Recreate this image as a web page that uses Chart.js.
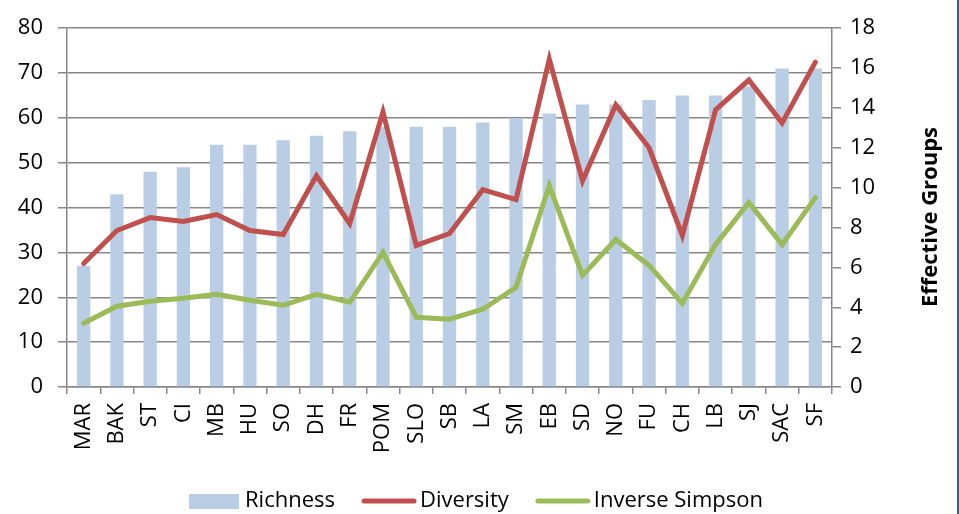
<!DOCTYPE html>
<html>
<head>
<meta charset="utf-8">
<script src="https://cdn.jsdelivr.net/npm/chart.js@4/dist/chart.umd.min.js"></script>
<style>
  html, body { margin: 0; padding: 0; background: #fff; }
  #wrap { width: 957px; height: 514px; border-right: 2px solid #1f6aa5; }
</style>
</head>
<body>
<div id="wrap"><canvas id="chart" width="957" height="514"></canvas></div>
<script>
const sites = ['MAR', 'BAK', 'ST', 'CI', 'MB', 'HU', 'SO', 'DH', 'FR', 'POM', 'SLO', 'SB',
  'LA', 'SM', 'EB', 'SD', 'NO', 'FU', 'CH', 'LB', 'SJ', 'SAC', 'SF'];
const richness = [27, 43, 48, 49, 54, 54, 55, 56, 57, 58, 58, 58,
  59, 60, 61, 63, 63, 64, 65, 65, 67, 71, 71];
const diversity = [6.2, 7.85, 8.5, 8.3, 8.65, 7.85, 7.65, 10.6, 8.2, 13.8, 7.1, 7.7,
  9.9, 9.4, 16.45, 10.35, 14.15, 12.0, 7.6, 13.9, 15.4, 13.25, 16.3];
const inverseSimpson = [3.2, 4.05, 4.3, 4.45, 4.65, 4.35, 4.1, 4.65, 4.25, 6.75, 3.5, 3.4,
  3.9, 5.0, 10.1, 5.6, 7.4, 6.1, 4.2, 7.15, 9.25, 7.15, 9.5];

const BLUE = '#b9cde5', RED = '#c0504d', GREEN = '#9bbb59', GRID = '#878787';
const FONT = "'Open Sans', sans-serif";
const SIZE = 22;

// little pictures for the legend keys
function keyBox(color) {
  const c = document.createElement('canvas');
  c.width = 50; c.height = 15;
  const g = c.getContext('2d');
  g.fillStyle = color;
  g.fillRect(0, 0, 50, 15);
  return c;
}
function keyLine(color) {
  const c = document.createElement('canvas');
  c.width = 56; c.height = 6;
  const g = c.getContext('2d');
  g.strokeStyle = color;
  g.lineWidth = 5;
  g.lineCap = 'round';
  g.beginPath(); g.moveTo(3, 3); g.lineTo(53, 3); g.stroke();
  return c;
}

// right axis title reads bottom to top
const rightTitle = {
  id: 'rightTitle',
  afterDraw(chart) {
    const ctx = chart.ctx;
    ctx.save();
    ctx.translate(931, 217);
    ctx.rotate(-Math.PI / 2);
    ctx.font = "bold 22px " + FONT;
    ctx.fillStyle = '#000';
    ctx.textAlign = 'center';
    ctx.textBaseline = 'middle';
    ctx.fillText('Effective Groups', 0, 0);
    ctx.restore();
  }
};

new Chart(document.getElementById('chart'), {
  data: {
    labels: sites,
    datasets: [
      { type: 'bar', label: 'Richness', data: richness, yAxisID: 'y', backgroundColor: BLUE,
        categoryPercentage: 1, barPercentage: 0.4, order: 2 },
      { type: 'line', label: 'Diversity', data: diversity, yAxisID: 'y2', borderColor: RED,
        borderWidth: 5, pointRadius: 0, tension: 0, borderCapStyle: 'round', order: 1 },
      { type: 'line', label: 'Inverse Simpson', data: inverseSimpson, yAxisID: 'y2', borderColor: GREEN,
        borderWidth: 5, pointRadius: 0, tension: 0, borderCapStyle: 'round', order: 0 }
    ]
  },
  options: {
    responsive: false,
    animation: false,
    layout: { padding: { top: 22, left: 0, right: 0, bottom: -8 } },
    plugins: {
      tooltip: { enabled: false },
      legend: {
        position: 'bottom',
        labels: {
          usePointStyle: true,
          pointStyleWidth: 40,
          boxHeight: 15,
          padding: 34,
          color: '#000',
          font: { family: FONT, size: SIZE },
          generateLabels: () => [
            { text: 'Richness', pointStyle: keyBox(BLUE), fillStyle: BLUE, strokeStyle: BLUE, lineWidth: 0, datasetIndex: 0 },
            { text: 'Diversity', pointStyle: keyLine(RED), fillStyle: RED, strokeStyle: RED, lineWidth: 0, datasetIndex: 1 },
            { text: 'Inverse Simpson', pointStyle: keyLine(GREEN), fillStyle: GREEN, strokeStyle: GREEN, lineWidth: 0, datasetIndex: 2 }
          ]
        }
      }
    },
    scales: {
      x: {
        afterFit: s => { s.height = 69; },
        grid: { drawOnChartArea: false, drawTicks: true, tickLength: 7, color: GRID, lineWidth: 1.5 },
        border: { color: GRID, width: 1.5 },
        ticks: { minRotation: 90, maxRotation: 90, autoSkip: false, padding: 9, color: '#000',
          font: { family: FONT, size: SIZE } }
      },
      y: {
        position: 'left',
        min: 0, max: 80,
        afterFit: s => { s.width = 67; },
        grid: { color: GRID, lineWidth: 1.5, tickLength: 9 },
        border: { color: GRID, width: 1.5 },
        ticks: { stepSize: 10, padding: 15, color: '#000', font: { family: FONT, size: SIZE } }
      },
      y2: {
        position: 'right',
        min: 0, max: 18,
        afterFit: s => { s.width = 125; },
        grid: { drawOnChartArea: false, color: GRID, lineWidth: 1.5, tickLength: 9 },
        border: { color: GRID, width: 1.5 },
        ticks: { stepSize: 2, padding: 9, color: '#000', font: { family: FONT, size: SIZE } }
      }
    }
  },
  plugins: [rightTitle]
});
</script>
</body>
</html>
